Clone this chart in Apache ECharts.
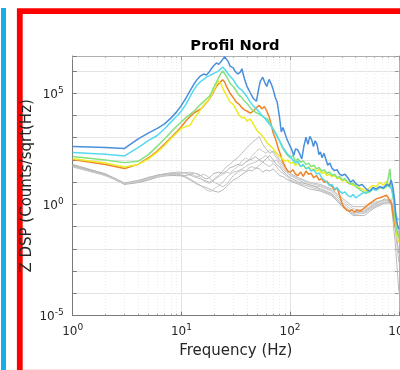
<!DOCTYPE html>
<html>
<head>
<meta charset="utf-8">
<script src="https://cdn.jsdelivr.net/npm/echarts@6/dist/echarts.min.js"></script>
<style>
  html, body { margin: 0; padding: 0; background: #ffffff; }
  #chart { width: 400px; height: 370px; }
</style>
</head>
<body>
<div id="chart"></div>
<script>
// Spectral density curves, stored as [frequency (Hz), log10 of DSP] pairs.
const blueSpec = [[1,2.60],[2,2.56],[3,2.52],[4,2.95],[5,3.22],[6,3.42],[7,3.62],[8,3.88],[9,4.15],[10,4.45],[11,4.78],[12,5.1],[13,5.4],[14,5.62],[15,5.78],[16,5.86],[17,5.82],[18,5.95],[19,6.12],[20,6.26],[21,6.36],[22,6.3],[23,6.4],[24,6.52],[25,6.64],[26,6.67],[27,6.42],[28,6.22],[30,6.14],[31,6.0],[33,5.86],[35,5.96],[36,6.1],[38,5.65],[40,5.32],[43,5.02],[46,4.76],[49,4.64],[51,5.1],[53,5.52],[56,5.72],[59,5.44],[61,5.3],[64,5.62],[67,5.42],[70,5.15],[73,4.82],[76,4.6],[80,3.9],[83,3.26],[86,3.46],[89,3.52],[93,2.96],[97,2.76],[100,2.62],[104,2.44],[108,2.2],[112,2.5],[117,2.46],[122,2.3],[128,2.04],[134,2.62],[140,3.02],[146,2.7],[152,3.06],[158,2.9],[164,2.6],[170,2.86],[177,2.7],[184,2.24],[190,2.36],[197,2.1],[205,2.3],[213,2.04],[222,1.76],[232,1.86],[242,1.64],[255,1.52],[270,1.56],[285,1.36],[300,1.3],[320,1.36],[340,1.2],[360,1.0],[380,1.1],[400,0.95],[430,0.84],[460,0.9],[500,0.7],[540,0.6],[580,0.76],[620,0.7],[670,0.8],[720,0.74],[770,0.9],[820,0.84],[850,1.1],[880,0.8],[910,0.3],[940,-0.5],[970,-0.9],[1000,-1.1]];

const cyanSpec = [[1,2.33],[2,2.26],[3,2.18],[4,2.55],[5,2.88],[6,3.1],[7,3.4],[8,3.7],[9,3.95],[10,4.2],[11,4.5],[12,4.85],[13,5.15],[14,5.38],[15,5.52],[16,5.62],[17,5.72],[18,5.78],[19,5.84],[20,5.9],[21,5.95],[22,6.0],[23,6.1],[24,6.18],[25,6.12],[26,5.98],[27,5.86],[28,5.76],[30,5.6],[32,5.38],[34,5.22],[36,5.14],[38,5.0],[40,4.85],[43,4.6],[46,4.42],[50,4.25],[54,4.05],[58,3.9],[62,3.72],[66,3.56],[70,3.36],[75,3.1],[80,2.86],[85,2.6],[90,2.42],[95,2.26],[100,2.15],[106,2.0],[112,1.86],[118,1.95],[125,1.7],[132,1.8],[140,1.6],[148,1.66],[156,1.5],[165,1.56],[175,1.36],[185,1.42],[195,1.2],[206,1.1],[218,1.0],[230,0.85],[243,0.9],[257,0.7],[271,0.76],[286,0.6],[302,0.5],[320,0.56],[340,0.4],[360,0.34],[380,0.45],[400,0.3],[430,0.4],[460,0.5],[500,0.55],[540,0.6],[580,0.7],[620,0.64],[670,0.8],[720,0.74],[770,0.86],[820,0.8],[860,0.7],[900,0.2],[930,-0.4],[960,-0.6],[1000,-0.7]];

const greenSpec = [[1,2.15],[2,2.0],[3,1.88],[4,1.94],[5,2.25],[6,2.62],[7,2.95],[8,3.25],[9,3.5],[10,3.72],[11,3.9],[12,4.05],[13,4.18],[14,4.35],[15,4.5],[16,4.62],[17,4.75],[18,4.85],[19,5.05],[20,5.3],[21,5.5],[22,5.7],[23,5.88],[24,6.0],[25,5.92],[26,5.76],[27,5.6],[28,5.45],[30,5.3],[32,5.1],[34,4.9],[36,4.8],[38,4.65],[40,4.55],[43,4.35],[46,4.2],[50,4.1],[54,4.0],[58,3.9],[62,3.84],[66,3.6],[70,3.4],[75,3.15],[80,2.85],[85,2.55],[90,2.35],[95,2.2],[100,2.1],[106,2.2],[112,1.95],[118,2.05],[125,1.9],[132,1.96],[140,1.8],[148,1.86],[156,1.7],[165,1.76],[175,1.6],[185,1.66],[195,1.5],[206,1.56],[218,1.4],[230,1.46],[243,1.3],[257,1.36],[271,1.2],[286,1.26],[302,1.1],[320,1.16],[340,1.0],[360,0.9],[380,0.96],[400,0.8],[430,0.7],[460,0.6],[500,0.5],[540,0.56],[580,0.7],[620,0.64],[670,0.76],[720,0.7],[770,0.8],[800,0.75],[830,1.6],[845,0.9],[870,0.6],[900,0.1],[930,-0.7],[960,-1.2],[1000,-1.45]];

const yellowSpec = [[1,2.05],[2,1.86],[3,1.68],[4,1.8],[5,2.05],[6,2.35],[7,2.65],[8,2.95],[9,3.2],[10,3.42],[11,3.5],[12,3.55],[13,3.85],[14,4.05],[15,4.25],[16,4.45],[17,4.6],[18,4.75],[19,4.95],[20,5.15],[21,5.38],[22,5.55],[23,5.45],[24,5.22],[25,5.05],[26,4.9],[27,4.75],[28,4.6],[30,4.5],[32,4.25],[34,4.0],[36,3.9],[38,3.92],[40,3.75],[43,3.85],[46,3.6],[50,3.3],[54,3.15],[58,2.95],[62,2.75],[66,2.62],[70,2.5],[75,2.3],[80,2.15],[85,2.05],[90,1.95],[95,2.0],[100,1.85],[106,1.9],[112,1.75],[118,1.85],[125,1.7],[132,1.76],[140,1.6],[148,1.7],[156,1.55],[165,1.6],[175,1.5],[185,1.56],[195,1.4],[206,1.46],[218,1.3],[230,1.36],[243,1.25],[257,1.3],[271,1.15],[286,1.2],[302,1.05],[320,1.1],[340,0.95],[360,1.0],[380,0.85],[400,0.9],[430,0.75],[460,0.7],[500,0.6],[540,0.76],[580,0.86],[620,0.8],[670,1.0],[720,0.86],[770,1.05],[800,0.9],[830,0.96],[870,0.7],[900,0.1],[930,-0.8],[960,-1.4],[1000,-1.7]];

const orangeSpec = [[1,2.02],[2,1.8],[3,1.62],[4,1.8],[5,2.1],[6,2.4],[7,2.72],[8,3.0],[9,3.25],[10,3.5],[11,3.75],[12,3.95],[13,4.1],[14,4.2],[15,4.28],[16,4.42],[17,4.58],[18,4.72],[19,4.9],[20,5.1],[21,5.3],[22,5.42],[23,5.52],[24,5.6],[25,5.5],[26,5.3],[27,5.15],[28,5.0],[30,4.8],[32,4.6],[34,4.5],[36,4.35],[38,4.25],[40,4.2],[43,4.1],[46,4.2],[49,4.35],[52,4.45],[55,4.3],[58,4.4],[61,4.2],[64,3.95],[67,3.6],[70,3.2],[74,2.9],[78,2.5],[82,2.2],[86,1.9],[90,1.7],[95,1.5],[100,1.45],[106,1.56],[112,1.36],[118,1.3],[125,1.46],[132,1.26],[140,1.5],[148,1.36],[156,1.4],[165,1.2],[175,1.3],[185,1.1],[195,1.16],[206,1.0],[218,1.05],[230,0.9],[243,0.8],[257,0.65],[271,0.75],[286,0.4],[300,0.05],[315,-0.15],[330,-0.25],[350,-0.3],[370,-0.24],[390,-0.35],[410,-0.25],[440,-0.3],[470,-0.2],[500,-0.1],[540,0.05],[580,0.15],[620,0.25],[670,0.3],[720,0.36],[770,0.42],[800,0.3],[830,0.36],[860,0.0],[890,-0.5],[920,-0.9],[950,-1.2],[980,-1.35],[1000,-1.4]];

// Reference stations (grey), sampled on a common frequency list; log10 of DSP.
const grayFreq = [1,2,3,4,5,6,7,8,9,10,11,12,13,14,15,16,17,18,19,20,22,24,26,28,30,33,36,39,42,45,48,52,56,60,65,70,75,80,86,92,100,120,150,190,240,300,380,480,600,740,850,930,1000];
const gray1 = [1.80,1.38,0.95,1.02,1.15,1.30,1.38,1.42,1.45,1.45,1.40,1.32,1.25,1.20,1.15,1.10,1.05,1.00,1.05,1.15,1.30,1.50,1.70,1.80,1.95,2.10,2.30,2.50,2.65,2.80,2.90,3.05,2.70,2.50,2.30,2.40,2.20,2.00,1.80,1.60,1.40,1.20,1.00,0.90,0.70,0.30,-0.10,-0.10,0.10,0.20,0.10,-1.80,-3.90];
const gray2 = [1.75,1.35,0.92,1.00,1.12,1.25,1.30,1.35,1.38,1.35,1.25,1.15,1.05,0.95,0.85,0.75,0.65,0.60,0.60,0.70,0.85,1.00,1.20,1.35,1.45,1.50,1.60,1.70,1.80,1.85,1.90,2.00,2.10,2.20,2.00,1.90,2.00,1.80,1.60,1.45,1.30,1.10,0.85,0.80,0.60,0.10,-0.30,-0.35,-0.05,0.15,0.20,-0.80,-1.60];
const gray3 = [1.72,1.32,0.90,0.98,1.10,1.22,1.28,1.30,1.30,1.28,1.30,1.35,1.40,1.38,1.30,1.20,1.15,1.20,1.30,1.40,1.45,1.40,1.50,1.65,1.70,1.80,1.75,1.90,2.00,2.05,2.15,2.00,1.90,2.05,2.20,2.00,1.80,1.70,1.50,1.35,1.20,1.00,0.90,0.70,0.50,0.00,-0.40,-0.30,0.00,0.25,0.15,-1.00,-2.20];
const gray4 = [1.70,1.30,0.93,1.05,1.20,1.30,1.35,1.40,1.42,1.40,1.45,1.40,1.30,1.25,1.30,1.35,1.30,1.20,1.10,1.00,0.90,0.80,0.90,1.10,1.30,1.45,1.55,1.50,1.65,1.70,1.60,1.75,1.90,1.80,1.70,1.85,1.70,1.50,1.40,1.30,1.10,0.95,0.80,0.65,0.45,-0.10,-0.45,-0.40,-0.10,0.10,0.05,-1.20,-2.60];
const gray5 = [1.78,1.36,0.97,1.08,1.22,1.32,1.36,1.38,1.35,1.30,1.20,1.10,1.00,0.90,0.85,0.80,0.75,0.70,0.65,0.60,0.55,0.65,0.80,0.95,1.10,1.20,1.35,1.45,1.55,1.50,1.65,1.60,1.45,1.55,1.50,1.60,1.45,1.30,1.25,1.15,1.05,0.90,0.70,0.60,0.40,-0.05,-0.50,-0.50,-0.15,0.05,0.10,-0.60,-1.30];
const gray6 = [1.68,1.30,0.94,1.02,1.15,1.25,1.30,1.35,1.38,1.40,1.42,1.45,1.42,1.35,1.20,1.05,1.00,0.95,1.00,1.10,1.25,1.35,1.45,1.40,1.55,1.70,1.95,2.10,2.00,2.20,2.35,2.50,2.40,2.30,2.45,2.30,2.10,1.90,1.70,1.50,1.35,1.15,0.95,0.85,0.65,0.20,-0.20,-0.25,0.05,0.20,0.25,-0.50,-1.20];

// Decades that carry a tick label
const xTickExps = [0, 1, 2, 3];
const yTickExps = [-5, 0, 5];

const FONT = 'DejaVu Sans';
const toPoints = pairs => pairs.map(p => [p[0], Math.pow(10, p[1])]);
const grayPoints = vals => grayFreq.map((f, i) => [f, Math.pow(10, vals[i])]);

function powLabel(allowed) {
  return function (v) {
    const l = Math.log10(v);
    const e = Math.round(l);
    if (Math.abs(l - e) > 1e-6 || allowed.indexOf(e) < 0) return '';
    return '{b|10}{s|' + e + '}';
  };
}
const labelRich = {
  b: { fontSize: 12, fontFamily: FONT, color: '#262626', verticalAlign: 'bottom' },
  s: { fontSize: 9, fontFamily: FONT, color: '#262626', verticalAlign: 'bottom', padding: [0, 0, 6, 0] }
};

const grayColors = ['#bcbcbc', '#c6c6c6', '#b4b4b4', '#c2c2c2', '#b8b8b8', '#cacaca'];
const grayArrays = [gray1, gray2, gray3, gray4, gray5, gray6];

const series = grayArrays.map((g, i) => ({
  type: 'line', data: grayPoints(g), showSymbol: false, symbol: 'none',
  lineStyle: { color: grayColors[i], width: 1 }, silent: true
}));

const colored = [
  [orangeSpec, '#f08426'],
  [yellowSpec, '#ecec2a'],
  [greenSpec, '#84e27e'],
  [cyanSpec, '#55d9ee'],
  [blueSpec, '#4a8fdc']
];
colored.forEach(c => series.push({
  type: 'line', data: toPoints(c[0]), showSymbol: false, symbol: 'none',
  lineStyle: { color: c[1], width: 1.5 }, silent: true
}));

const chart = echarts.init(document.getElementById('chart'), null, { renderer: 'canvas' });
chart.setOption({
  animation: false,
  backgroundColor: '#ffffff',
  title: {
    text: 'Profil Nord', left: 230, top: 34, textAlign: 'center',
    textStyle: { fontFamily: FONT, fontSize: 14.7, fontWeight: 'bold', color: '#000' }
  },
  grid: { left: 72.7, top: 56, width: 326.1, height: 259.7, containLabel: false, outerBoundsMode: 'none' },
  xAxis: [{
    type: 'log', logBase: 10, min: 1, max: 1000, interval: 1,
    name: 'Frequency (Hz)', nameLocation: 'middle', nameGap: 28,
    nameTextStyle: { fontFamily: FONT, fontSize: 15, color: '#262626' },
    axisLine: { lineStyle: { color: '#7a7a7a', width: 1 } },
    axisTick: { inside: true, length: 4, lineStyle: { color: '#7a7a7a' } },
    minorTick: { show: true, splitNumber: 9, length: 2, lineStyle: { color: '#9a9a9a' } },
    axisLabel: { margin: 7, formatter: powLabel(xTickExps), rich: labelRich },
    splitLine: { show: true, lineStyle: { color: '#e3e3e3', width: 1 } },
    minorSplitLine: { show: true, lineStyle: { color: '#ececec', width: 1, type: [1, 2] } }
  }, {
    type: 'log', logBase: 10, min: 1, max: 1000, interval: 1, position: 'top',
    axisLine: { lineStyle: { color: '#b0b0b0', width: 1 } },
    axisTick: { inside: true, length: 4, lineStyle: { color: '#9a9a9a' } },
    minorTick: { show: true, splitNumber: 9, length: 2, lineStyle: { color: '#b0b0b0' } },
    axisLabel: { show: false }, splitLine: { show: false }
  }],
  yAxis: [{
    type: 'log', logBase: 10, min: 1e-5, max: 4.7e6, interval: 1,
    name: 'Z DSP (Counts/sqrt(Hz)', nameLocation: 'middle', nameGap: 38, nameRotate: 90,
    nameMoveOverlap: false,
    nameTextStyle: { fontFamily: FONT, fontSize: 15, color: '#262626' },
    axisLine: { lineStyle: { color: '#7a7a7a', width: 1 } },
    axisTick: { inside: true, length: 4, lineStyle: { color: '#7a7a7a' } },
    axisLabel: { margin: 9, formatter: powLabel(yTickExps), rich: labelRich },
    splitLine: { show: true, lineStyle: { color: '#e3e3e3', width: 1 } }
  }, {
    type: 'log', logBase: 10, min: 1e-5, max: 4.7e6, interval: 1, position: 'right',
    axisLine: { show: true, lineStyle: { color: '#b0b0b0', width: 1 } },
    axisTick: { show: true, inside: true, length: 4, lineStyle: { color: '#9a9a9a' } },
    axisLabel: { show: false }, splitLine: { show: false }
  }],
  series: series,
  graphic: [
    { type: 'rect', shape: { x: 1, y: 8, width: 5, height: 362 }, style: { fill: '#17aee8' }, silent: true },
    { type: 'rect', shape: { x: 19.8, y: 11.2, width: 400, height: 362 }, style: { fill: null, stroke: '#ff0000', lineWidth: 5.8 }, silent: true },
    { type: 'line', shape: { x1: 23, y1: 369.5, x2: 400, y2: 369.5 }, style: { stroke: 'rgba(255,0,0,0.12)', lineWidth: 1 }, silent: true }
  ]
});
</script>
</body>
</html>
